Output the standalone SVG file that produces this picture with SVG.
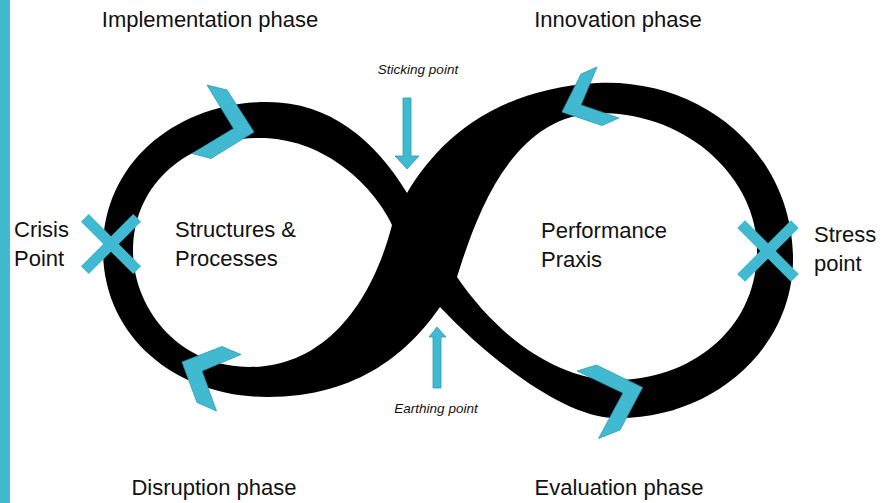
<svg xmlns="http://www.w3.org/2000/svg" width="883" height="503" viewBox="0 0 883 503">
  <style>
    .lbl { font-family: "Liberation Sans", Arial, sans-serif; font-size: 22px; fill: #111; }
    .sm { font-family: "Liberation Sans", Arial, sans-serif; font-size: 13.5px; font-style: italic; fill: #111; }
    .cy { fill: #40B9D1; stroke: #2C9DB6; stroke-width: 0.8; stroke-linejoin: miter; }
    .xbar { fill: #40B9D1; }
  </style>
  <rect x="0" y="0" width="883" height="503" fill="#ffffff"/>
  <rect id="sidebar" x="0" y="0" width="10" height="503" fill="#40B9D1"/>

  <g id="infinity-loop">
    <path fill="#000" d="M407,193 C430,155 480,90 597,83 C700,78 790,150 793,255 C795,350 710,420 615,418 C565,418 490,360 440,307 C410,350 360,397 267,397 C180,397 103,340 103,250 C103,160 180,102 267,102 C330,102 375,140 407,193 Z"/>
    <path fill="#fff" d="M392,225 C370,180 320,138 260,138 C180,138 133,190 133,250 C133,310 180,367 250,367 C320,367 370,310 392,225 Z"/>
    <path fill="#fff" d="M457,277 C475,220 510,113 600,113 C690,113 757,180 757,250 C757,330 690,380 615,380 C560,380 500,340 457,277 Z"/>
  </g>

  <g id="connectors">
    <polygon id="chevron-implementation" class="cy" points="207,85 227,90 254,132 211,158.5 192,153.5 233.5,128.5"/>
    <polygon id="chevron-innovation" class="cy" points="597,67 581,74 562,112 602,125.5 619,118 581,105"/>
    <polygon id="chevron-disruption" class="cy" points="222,346.5 241,354.5 202,371 216.5,411 197,402.5 182,362"/>
    <polygon id="chevron-evaluation" class="cy" points="577,371 596.5,365 642.5,387.5 620,430 598.5,438.5 623,393"/>
    <polygon id="arrow-sticking" class="cy" points="403,98 411,98 411,156 419,156 407,169 395,156 403,156"/>
    <polygon id="arrow-earthing" class="cy" points="433,388 441,388 441,337 446,337 437,327 429,337 433,337"/>
  </g>

  <g id="crisis-point">
    <rect class="xbar" x="74" y="238.5" width="74" height="11" transform="rotate(45 111 244)"/>
    <rect class="xbar" x="74" y="238.5" width="74" height="11" transform="rotate(-45 111 244)"/>
    <text class="lbl" x="14" y="237">Crisis</text>
    <text class="lbl" x="14" y="266">Point</text>
  </g>

  <g id="stress-point">
    <rect class="xbar" x="730" y="245.5" width="76" height="11" transform="rotate(45 768 251)"/>
    <rect class="xbar" x="730" y="245.5" width="76" height="11" transform="rotate(-45 768 251)"/>
    <text class="lbl" x="814" y="242">Stress</text>
    <text class="lbl" x="814" y="271">point</text>
  </g>

  <g id="structures-processes">
    <text class="lbl" x="175" y="237">Structures &amp;</text>
    <text class="lbl" x="175" y="266">Processes</text>
  </g>

  <g id="performance-praxis">
    <text class="lbl" x="541" y="238">Performance</text>
    <text class="lbl" x="541" y="267">Praxis</text>
  </g>

  <g id="implementation-phase"><text class="lbl" x="210" y="27" text-anchor="middle">Implementation phase</text></g>
  <g id="innovation-phase"><text class="lbl" x="618" y="27" text-anchor="middle">Innovation phase</text></g>
  <g id="disruption-phase"><text class="lbl" x="214" y="495" text-anchor="middle">Disruption phase</text></g>
  <g id="evaluation-phase"><text class="lbl" x="619" y="495" text-anchor="middle">Evaluation phase</text></g>
  <g id="sticking-point"><text class="sm" x="418" y="74" text-anchor="middle">Sticking point</text></g>
  <g id="earthing-point"><text class="sm" x="436" y="413" text-anchor="middle">Earthing point</text></g>
</svg>
